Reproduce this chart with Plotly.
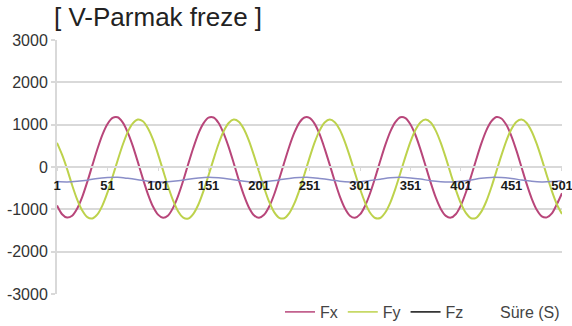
import plotly.graph_objects as go

# Sample index (time steps) and measured force components
samples = list(range(1, 502, 5))
samples_fz = list(range(1, 502, 10))

fx = [
    -910, -1115, -1195, -1150, -980, -705, -350, 40, 425, 765,
    1015, 1160, 1175, 1055, 820, 500, 120, -275, -640, -935,
    -1125, -1200, -1145, -960, -675, -320, 75, 455, 790, 1030,
    1165, 1170, 1040, 795, 470, 90, -305, -665, -955, -1140,
    -1200, -1130, -940, -650, -285, 105, 485, 810, 1050, 1170,
    1160, 1025, 775, 435, 55, -335, -695, -975, -1150, -1200,
    -1120, -920, -620, -255, 140, 515, 835, 1060, 1175, 1155,
    1005, 750, 405, 20, -370, -720, -990, -1155, -1195, -1110,
    -900, -590, -220, 170, 545, 860, 1075, 1180, 1145, 990,
    725, 380, -10, -400, -745, -1010, -1165, -1190, -1095, -875,
    -620,
]

fy = [
    570, 290, -50, -430, -770, -1030, -1185, -1215, -1120, -905,
    -600, -230, 155, 520, 825, 1030, 1120, 1080, 915, 650,
    305, -80, -460, -795, -1050, -1195, -1215, -1105, -885, -570,
    -200, 185, 550, 845, 1040, 1120, 1070, 900, 625, 275,
    -110, -485, -820, -1065, -1200, -1210, -1090, -860, -545, -170,
    215, 575, 860, 1050, 1120, 1060, 880, 595, 245, -140,
    -515, -840, -1080, -1205, -1205, -1075, -840, -515, -140, 245,
    600, 880, 1060, 1120, 1050, 860, 570, 215, -170, -545,
    -865, -1090, -1210, -1200, -1060, -815, -485, -105, 275, 625,
    900, 1070, 1120, 1040, 840, 545, 185, -200, -570, -885,
    -1110,
]

fz = [
    -345, -352, -338, -312, -270, -250, -243, -268, -300, -336,
    -352, -348, -326, -287, -258, -242, -256, -283, -320, -346,
    -356, -336, -305, -270, -250, -246, -271, -302, -336, -352,
    -349, -320, -288, -255, -244, -258, -286, -324, -348, -354,
    -335, -305, -268, -246, -250, -271, -307, -338, -353, -345,
    -322,
]

x_ticks = [1, 51, 101, 151, 201, 251, 301, 351, 401, 451, 501]
y_ticks = [3000, 2000, 1000, 0, -1000, -2000, -3000]

FONT = "Liberation Sans, Arial, sans-serif"
C_FX = "#b8467a"
C_FY = "#bdd24c"
C_FZ = "#8a8ec8"
GRID = "#d9d9d9"

fig = go.Figure()
fig.add_trace(go.Scatter(x=samples, y=fx, mode="lines", showlegend=False,
                         line=dict(color=C_FX, width=2, shape="spline", smoothing=0.8)))
fig.add_trace(go.Scatter(x=samples, y=fy, mode="lines", showlegend=False,
                         line=dict(color=C_FY, width=2, shape="spline", smoothing=0.8)))
fig.add_trace(go.Scatter(x=samples_fz, y=fz, mode="lines", showlegend=False,
                         line=dict(color=C_FZ, width=1.5, shape="spline", smoothing=0.8)))

# Legend entries
for name, col in [("Fx", C_FX), ("Fy", C_FY), ("Fz", "#111111")]:
    fig.add_trace(go.Scatter(x=[None], y=[None], mode="lines", name=name,
                             line=dict(color=col, width=1.5)))

fig.update_layout(
    width=572, height=326,
    margin=dict(l=57, r=10, t=40, b=32, autoexpand=False),
    paper_bgcolor="white", plot_bgcolor="white",
    font=dict(family=FONT, color="#333333"),
    title=dict(text="[ V-Parmak freze ]", xref="container", x=54 / 572,
               xanchor="left", yref="container", y=1 - 17 / 326, yanchor="middle",
               font=dict(size=26, color="#222222", family=FONT)),
    legend=dict(orientation="h", xref="container", yref="container",
                x=280 / 572, xanchor="left", y=1 - 312 / 326, yanchor="middle",
                font=dict(size=16, color="#444444"), bgcolor="rgba(0,0,0,0)",
                itemwidth=30, tracegroupgap=0),
    annotations=[dict(text="Süre (S)", xref="paper", yref="paper",
                      x=1.0, y=-18 / 254, xanchor="right", yanchor="middle",
                      showarrow=False, font=dict(size=16, color="#444444", family=FONT))],
)

fig.update_xaxes(
    range=[0.99, 501.01], tickvals=x_ticks, ticktext=[str(v) for v in x_ticks],
    anchor="free", position=0.5, showgrid=False, zeroline=False,
    showline=True, linecolor=GRID, linewidth=2,
    ticks="outside", ticklen=3, tickcolor=GRID, tickwidth=1,
    ticklabeloverflow="allow", ticklabelstandoff=3,
    tickfont=dict(size=13, color="#1a1a1a", family=FONT, weight="bold"),
)
fig.update_yaxes(
    range=[-3000, 3000], tickvals=y_ticks, ticktext=[str(v) for v in y_ticks],
    showgrid=True, gridcolor=GRID, gridwidth=2, zeroline=False,
    showline=True, linecolor=GRID, linewidth=2,
    ticks="outside", ticklen=4, tickcolor=GRID, tickwidth=2,
    tickfont=dict(size=16, color="#333333", family=FONT),
)

fig.write_html("out.html")
